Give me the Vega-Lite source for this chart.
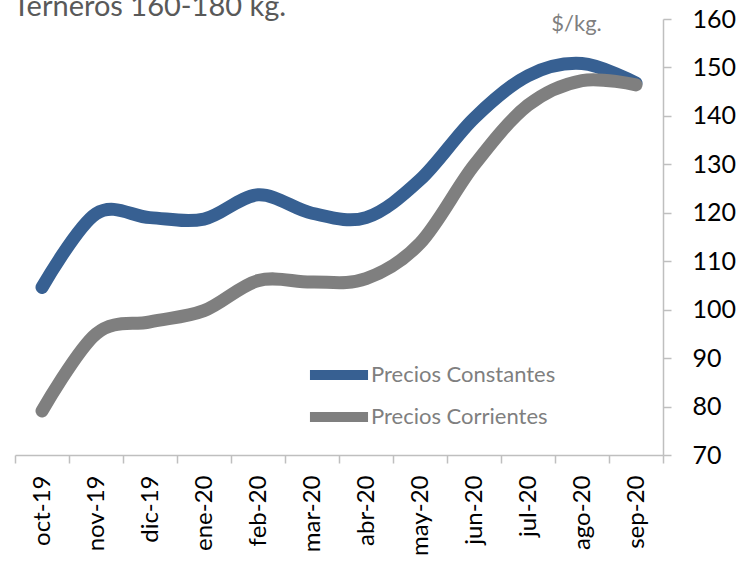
{
  "$schema": "https://vega.github.io/schema/vega-lite/v6.json",
  "width": 648,
  "height": 436,
  "autosize": {"type": "none"},
  "padding": {"left": 15, "top": 19, "right": 81, "bottom": 106},
  "background": "white",
  "title": {
    "text": "Terneros 160-180 kg.",
    "anchor": "start",
    "frame": "group",
    "orient": "top",
    "baseline": "alphabetic",
    "offset": 6,
    "dx": -2,
    "dy": 44,
    "font": "Lato",
    "fontSize": 29,
    "fontWeight": "normal",
    "color": "#595959"
  },
  "data": {
    "values": [
      {"mes": "oct-19", "serie": "Precios Constantes", "valor": 104.6},
      {"mes": "nov-19", "serie": "Precios Constantes", "valor": 119.8},
      {"mes": "dic-19", "serie": "Precios Constantes", "valor": 119.0},
      {"mes": "ene-20", "serie": "Precios Constantes", "valor": 118.7},
      {"mes": "feb-20", "serie": "Precios Constantes", "valor": 123.7},
      {"mes": "mar-20", "serie": "Precios Constantes", "valor": 119.9},
      {"mes": "abr-20", "serie": "Precios Constantes", "valor": 119.0},
      {"mes": "may-20", "serie": "Precios Constantes", "valor": 126.8},
      {"mes": "jun-20", "serie": "Precios Constantes", "valor": 139.5},
      {"mes": "jul-20", "serie": "Precios Constantes", "valor": 148.3},
      {"mes": "ago-20", "serie": "Precios Constantes", "valor": 150.8},
      {"mes": "sep-20", "serie": "Precios Constantes", "valor": 146.8},
      {"mes": "oct-19", "serie": "Precios Corrientes", "valor": 79.1},
      {"mes": "nov-19", "serie": "Precios Corrientes", "valor": 95.0},
      {"mes": "dic-19", "serie": "Precios Corrientes", "valor": 97.5},
      {"mes": "ene-20", "serie": "Precios Corrientes", "valor": 99.8},
      {"mes": "feb-20", "serie": "Precios Corrientes", "valor": 106.0},
      {"mes": "mar-20", "serie": "Precios Corrientes", "valor": 105.7},
      {"mes": "abr-20", "serie": "Precios Corrientes", "valor": 106.4},
      {"mes": "may-20", "serie": "Precios Corrientes", "valor": 113.7},
      {"mes": "jun-20", "serie": "Precios Corrientes", "valor": 129.8},
      {"mes": "jul-20", "serie": "Precios Corrientes", "valor": 142.2},
      {"mes": "ago-20", "serie": "Precios Corrientes", "valor": 147.3},
      {"mes": "sep-20", "serie": "Precios Corrientes", "valor": 146.4}
    ]
  },
  "mark": {
    "type": "line",
    "interpolate": "cardinal",
    "strokeWidth": 13,
    "strokeCap": "round",
    "strokeJoin": "round"
  },
  "encoding": {
    "x": {
      "field": "mes",
      "type": "ordinal",
      "sort": ["oct-19", "nov-19", "dic-19", "ene-20", "feb-20", "mar-20", "abr-20", "may-20", "jun-20", "jul-20", "ago-20", "sep-20"],
      "scale": {"paddingInner": 0, "paddingOuter": 0},
      "axis": {
        "title": null,
        "labelAngle": -90,
        "labelFont": "Lato",
        "labelFontSize": 24,
        "labelColor": "#000000",
        "labelPadding": 12,
        "tickBand": "extent",
        "tickSize": 8,
        "tickColor": "#bfbfbf",
        "domainColor": "#bfbfbf",
        "domainWidth": 1.5,
        "tickWidth": 1.5,
        "grid": false
      }
    },
    "y": {
      "field": "valor",
      "type": "quantitative",
      "scale": {"domain": [70, 160], "nice": false, "zero": false},
      "axis": {
        "orient": "right",
        "values": [70, 80, 90, 100, 110, 120, 130, 140, 150, 160],
        "title": "$/kg.",
        "titleAngle": 0,
        "titleX": -87,
        "titleY": 11,
        "titleAlign": "center",
        "titleBaseline": "alphabetic",
        "titleFont": "Lato",
        "titleFontSize": 22,
        "titleFontWeight": "normal",
        "titleColor": "#7f7f7f",
        "labelFont": "Lato",
        "labelFontSize": 25,
        "labelColor": "#000000",
        "labelPadding": 21,
        "tickSize": 8,
        "tickColor": "#bfbfbf",
        "domainColor": "#bfbfbf",
        "domainWidth": 1.5,
        "tickWidth": 1.5,
        "grid": false
      }
    },
    "color": {
      "field": "serie",
      "type": "nominal",
      "scale": {"domain": ["Precios Constantes", "Precios Corrientes"], "range": ["#376092", "#7f7f7f"]},
      "legend": {
        "title": null,
        "orient": "none",
        "legendX": 308,
        "legendY": 340,
        "symbolType": "M-2.64,0H2.64",
        "symbolSize": 484,
        "symbolStrokeWidth": 10,
        "labelFont": "Lato",
        "labelFontSize": 22,
        "labelColor": "#7f7f7f",
        "labelOffset": 16,
        "labelLimit": 0,
        "rowPadding": 2
      }
    }
  },
  "config": {"view": {"stroke": null}}
}
